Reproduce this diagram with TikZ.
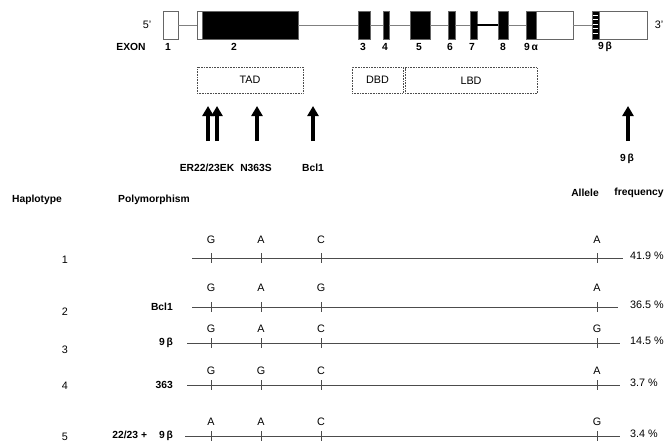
\documentclass[tikz,border=0pt]{standalone}
\usepackage{fontspec}
\setmainfont{Liberation Sans}
\usetikzlibrary{arrows.meta,positioning}
\tikzset{
  exon/.style      = {rectangle, draw=gray!80!black, line width=0.7pt, fill=black,
                      inner sep=0pt, minimum height=28pt},
  utr/.style       = {exon, fill=white},
  intron/.style    = {line width=0.8pt, gray},
  domainbox/.style = {rectangle, draw=gray!60!black, densely dotted, line width=0.6pt,
                      inner sep=0pt, minimum height=26pt},
  snp arrow/.style = {-{Triangle[length=10pt,width=11pt]}, line width=4.2pt},
  hap line/.style  = {line width=0.8pt, black!70},
  lbl/.style       = {font=\fontsize{10.3}{12}\selectfont\bfseries, inner sep=0pt},
}

\begin{document}
\begin{tikzpicture}[x=1pt, y=-1pt,
    every node/.style={font=\fontsize{10.8}{12}\selectfont},
  ]
  \useasboundingbox (0,0) rectangle (666,442);

  % ---- gene: exons and introns -------------------------------------------
  \node[inner sep=0pt] (five) at (147,25) {5'};
  \node[inner sep=0pt] (three) at (659,25) {3'};
  \foreach \n/\c/\w in {1/170.5/15, 2a/199.5/5, 9u/554.5/37, 9b/623/48}
    { \node[utr, minimum width=\w] (e\n) at (\c,25) {}; }
  \foreach \n/\c/\w in {2/250/96, 3/364/12, 4/386/6, 5/420/20, 6/451.5/7,
                        7/473.5/7, 8/503/10, 9a/531/10, 9h/595.5/7}
    { \node[exon, minimum width=\w] (e\n) at (\c,25) {}; }
  % striped start of exon 9 beta
  \foreach \yy in {15,19.5,...,37} { \draw[white, line width=1pt] (592.8,\yy) -- (598.2,\yy); }

  \draw[intron] (e1) -- (e2a);
  \draw[intron] (e2) -- (e3);
  \draw[intron] (e3) -- (e4);
  \draw[intron] (e4) -- (e5);
  \draw[intron] (e5) -- (e6);
  \draw[intron] (e6) -- (e7);
  \draw[intron, black, line width=1.2pt] (e7) -- (e8);
  \draw[intron] (e8) -- (e9a);
  \draw[intron] (e9u) -- (e9h);

  % ---- exon numbers ------------------------------------------------------
  \node[lbl] (exon) at (131,47) {EXON};
  \foreach \n/\x/\t in {1/168/1, 2/234/2, 3/363/3, 4/385/4, 5/419/5, 6/450/6,
                        7/472/7, 8/503/8, 9a/531/9\,α, 9b/605/9\,β}
    { \node[lbl] (n\n) at (\x,47) {\t}; }

  % ---- protein domains ---------------------------------------------------
  \node[domainbox, minimum width=106] (tad) at (250,80) {TAD};
  \node[domainbox, minimum width=51]  (dbd) at (377.5,80) {DBD};
  \node[domainbox, minimum width=132] (lbd) at (471,80.5) {LBD};

  % ---- polymorphism positions --------------------------------------------
  \foreach \s/\x in {er/208, ek/217, n/257, bcl/313, beta/628} {
    \coordinate (\s base) at (\x,141);
    \coordinate (\s tip)  at (\x,106);
    \draw[snp arrow] (\s base) -- (\s tip);
  }
  \node[lbl] (ler)   at (207,168) {ER22/23EK};
  \node[lbl] (ln)    at (256,168) {N363S};
  \node[lbl] (lbcl)  at (313,168) {Bcl1};
  \node[lbl] (lbeta) at (627,159) {9\,β};

  % ---- haplotype table ---------------------------------------------------
  \node[lbl] (hhap)  at (37,200)  {Haplotype};
  \node[lbl] (hpoly) at (154,200) {Polymorphism};
  \node[lbl] (hall)  at (585,193) {Allele};
  \node[lbl] (hfreq) at (639,193) {frequency};

  \foreach \n/\y/\ny/\ly/\xs/\xe/\a/\b/\c/\d/\f/\poly in {
      1/258/260/240/192/623/G/A/C/A/41.9 \%/{},
      2/307/312/288/192/618/G/A/G/A/36.5 \%/{Bcl1},
      3/343/350/329/187/620/G/A/C/G/14.5 \%/{9\,β},
      4/385/386/371/187/620/G/G/C/A/3.7 \%/{363},
      5/436/437/422/185/620/A/A/C/G/3.4 \%/{22/23 +\hspace{12pt}9\,β}} {
    \node (num\n) at (65,\ny) {\n};
    \node[lbl, anchor=east] (poly\n) at (173,\y) {\poly};
    \coordinate (start\n) at (\xs,\y);
    \coordinate (end\n) at (\xe,\y);
    \draw[hap line] (start\n) -- (end\n);
    \foreach \k/\x/\t in {1/211/\a, 2/261/\b, 3/321/\c, 4/597/\d} {
      \draw[hap line] (\x,\y-5) -- (\x,\y+5);
      \node (al\n\k) at (\x,\ly) {\t};
    }
    \node[anchor=west, inner sep=0pt] (freq\n) at (630,\y-2) {\f};
  }
\end{tikzpicture}
\end{document}
